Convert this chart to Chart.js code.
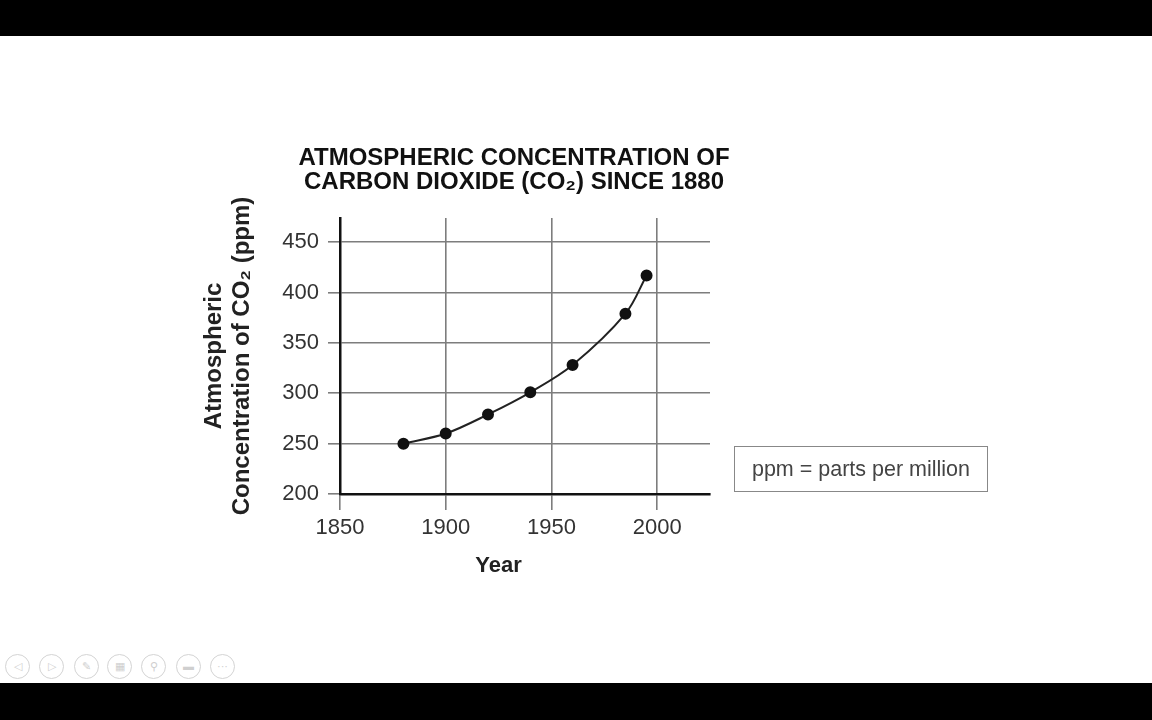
<!DOCTYPE html>
<html>
<head>
<meta charset="utf-8">
<script src="https://cdn.jsdelivr.net/npm/chart.js@4.4.1/dist/chart.umd.min.js"></script>
<style>
  html, body { margin: 0; padding: 0; background: #fff; width: 1152px; height: 720px; overflow: hidden; font-family: "Liberation Sans", Arial, sans-serif; }
  .bar { position: absolute; left: 0; width: 1152px; background: #000; }
  #chartWrap { position: absolute; left: 190px; top: 130px; width: 648px; height: 470px; }
  #note { position: absolute; left: 734px; top: 446px; width: 252px; height: 44px; border: 1.5px solid #888;
          font-size: 21.5px; color: #444; line-height: 44px; text-align: center; }
  .icon { position: absolute; top: 654px; width: 23px; height: 23px; border: 1px solid #d4d4d4; border-radius: 50%;
          color: #cfcfcf; font-size: 11px; line-height: 23px; text-align: center; }
</style>
</head>
<body>
<div class="bar" style="top:0;height:36px"></div>
<div class="bar" style="top:683px;height:37px"></div>

<div id="chartWrap"><canvas id="co2Chart" width="648" height="470"></canvas></div>
<div id="note">ppm = parts per million</div>

<div class="icon" style="left:5px">&#9665;</div>
<div class="icon" style="left:39px">&#9655;</div>
<div class="icon" style="left:74px">&#9998;</div>
<div class="icon" style="left:107px">&#9638;</div>
<div class="icon" style="left:141px">&#9906;</div>
<div class="icon" style="left:176px">&#9644;</div>
<div class="icon" style="left:210px">&middot;&middot;&middot;</div>

<script>
// Data
const years = [1880, 1900, 1920, 1940, 1960, 1985, 1995];
const co2ppm = [250, 260, 279, 301, 328, 379, 417];
const xTicks = [1850, 1900, 1950, 2000];
const yTicks = [200, 250, 300, 350, 400, 450];

const titleLines = ["ATMOSPHERIC CONCENTRATION OF", "CARBON DIOXIDE (CO\u2082) SINCE 1880"];
const yTitleLines = ["Atmospheric", "Concentration of CO\u2082 (ppm)"];
const xTitle = "Year";

const fontFamily = "'Liberation Sans', Arial, sans-serif";

// "Year" is centred under the labelled part of the axis, not the whole plot
const xTitlePlugin = {
  id: "xTitlePlugin",
  afterDraw(chart) {
    const ctx = chart.ctx;
    const x = chart.scales.x.getPixelForValue((xTicks[0] + xTicks[xTicks.length - 1]) / 2);
    const y = chart.chartArea.bottom + 72;
    ctx.save();
    ctx.font = "bold 22px " + fontFamily;
    ctx.fillStyle = "#222";
    ctx.textAlign = "center";
    ctx.textBaseline = "middle";
    ctx.fillText(xTitle, x, y);
    ctx.restore();
  }
};

const ctx = document.getElementById("co2Chart").getContext("2d");
new Chart(ctx, {
  type: "line",
  data: {
    datasets: [{
      data: years.map((y, i) => ({ x: y, y: co2ppm[i] })),
      borderColor: "#222",
      borderWidth: 2,
      backgroundColor: "#111",
      pointBackgroundColor: "#111",
      pointBorderColor: "#111",
      pointRadius: 5,
      tension: 0.35,
      fill: false
    }]
  },
  options: {
    responsive: false,
    animation: false,
    layout: { padding: 0 },
    plugins: {
      legend: { display: false },
      tooltip: { enabled: false },
      title: {
        display: true,
        text: titleLines,
        color: "#111",
        font: { family: fontFamily, size: 24, weight: "bold", lineHeight: "24px" },
        padding: { top: 16, bottom: 24 }
      }
    },
    scales: {
      x: {
        type: "linear",
        min: 1850,
        max: 2025,
        afterFit: (s) => { s.height = 106; },
        afterBuildTicks: (s) => { s.ticks = xTicks.map(v => ({ value: v })); },
        ticks: {
          color: "#333",
          padding: 5,
          font: { family: fontFamily, size: 22 },
          callback: (v) => String(v)
        },
        grid: { color: "#7d7d7d", lineWidth: 1.6, tickLength: 16 },
        border: { color: "#111", width: 2.5 }
      },
      y: {
        min: 200,
        max: 474,
        afterFit: (s) => { s.width = 150; },
        afterBuildTicks: (s) => { s.ticks = yTicks.map(v => ({ value: v })); },
        ticks: {
          color: "#333",
          padding: 9,
          font: { family: fontFamily, size: 22 }
        },
        grid: { color: "#7d7d7d", lineWidth: 1.6, tickLength: 12 },
        border: { color: "#111", width: 2.5 },
        title: {
          display: true,
          text: yTitleLines,
          color: "#222",
          font: { family: fontFamily, size: 24, weight: "bold", lineHeight: "28.8px" },
          padding: { top: 9.6, bottom: 0 }
        }
      },
      // empty strip right of the plot, so the title centres as in the original
      yRight: {
        position: "right",
        afterFit: (s) => { s.width = 128; },
        ticks: { display: false },
        grid: { display: false },
        border: { display: false }
      }
    }
  },
  plugins: [xTitlePlugin]
});
</script>
</body>
</html>
